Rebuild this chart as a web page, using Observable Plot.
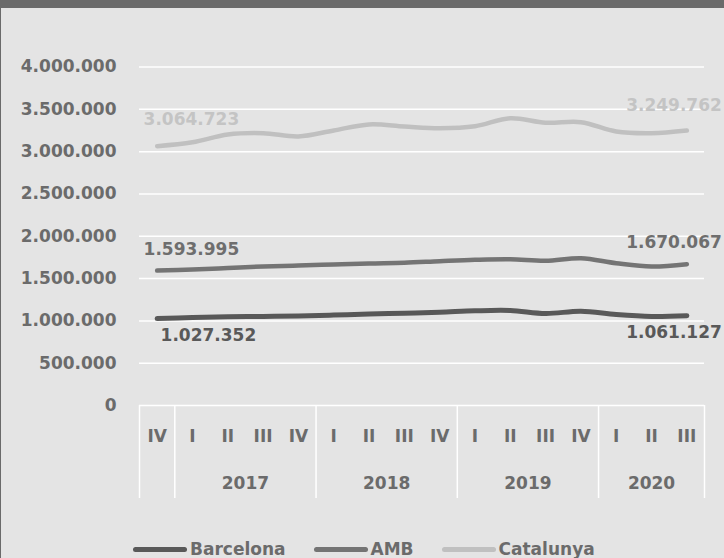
<!DOCTYPE html>
<html><head><meta charset="utf-8">
<script src="https://cdn.jsdelivr.net/npm/d3@7"></script>
<script src="https://cdn.jsdelivr.net/npm/@observablehq/plot@0.6"></script>
<style>
html,body{margin:0;padding:0;background:#e4e4e4;}
#wrap{position:relative;width:724px;height:558px;overflow:hidden;background:#e4e4e4;font-family:"DejaVu Sans",sans-serif;}
#band{position:absolute;left:0;top:0;width:724px;height:8px;background:#6a6a6a;}
#lb{position:absolute;left:0;top:0;width:1px;height:558px;background:#6a6a6a;}
#chart{position:absolute;left:0;top:0;}
#legend{position:absolute;top:539px;left:133px;display:flex;align-items:center;font-weight:bold;font-size:17px;color:#6b6b6b;white-space:nowrap;}
.item{display:flex;align-items:center;margin-right:28px;}
.sw{display:inline-block;width:54px;height:5px;border-radius:3px;margin-right:3px;}
</style></head>
<body>
<div id="wrap"><div id="chart"></div><div id="band"></div><div id="lb"></div><div id="legend"></div></div>
<script>
const quarters = ["IV","I","II","III","IV","I","II","III","IV","I","II","III","IV","I","II","III"];
const quarterYears = [2016,2017,2017,2017,2017,2018,2018,2018,2018,2019,2019,2019,2019,2020,2020,2020];
const yearLabels = ["2017","2018","2019","2020"];
const barcelona = [1027352,1040000,1048000,1052000,1058000,1069000,1081000,1091000,1102000,1119000,1123000,1087000,1114000,1075000,1052000,1061127];
const amb = [1593995,1607000,1625000,1643000,1654000,1666000,1678000,1686000,1705000,1722000,1729000,1710000,1741000,1682000,1643000,1670067];
const catalunya = [3064723,3110000,3202000,3218000,3179000,3250000,3321000,3297000,3277000,3300000,3395000,3341000,3348000,3238000,3218000,3249762];
const yTicks = [0,500000,1000000,1500000,2000000,2500000,3000000,3500000,4000000];
const seriesNames = ["Barcelona","AMB","Catalunya"];
const seriesColors = ["#595959","#747474","#c0c0c0"];
const labelColors = ["#595959","#6e6e6e","#c4c4c4"];

const seriesValues = [barcelona, amb, catalunya];
const rows = [];
seriesNames.forEach((s, k) => seriesValues[k].forEach((v, i) => rows.push({i, series: s, value: v})));

const n = quarters.length;
const seps = [-0.5];
for (let i = 1; i < n; i++) if (quarterYears[i] !== quarterYears[i-1]) seps.push(i - 0.5);
seps.push(n - 0.5);
const yearGroups = yearLabels.map(y => {
  const idx = quarterYears.map((q, i) => q === +y ? i : null).filter(d => d !== null);
  return {year: y, center: d3.mean(idx)};
});

const loc = d3.formatLocale({decimal: ",", thousands: ".", grouping: [3], currency: ["", "€"]});
const fmt = loc.format(",d");

const first = seriesNames.map((s, k) => ({series: s, i: 0, value: seriesValues[k][0]}));
const last = seriesNames.map((s, k) => ({series: s, i: n - 1, value: seriesValues[k][n - 1]}));
const lbl = (d, k, opts) => Plot.text([d], {x: "i", y: "value", text: d => fmt(d.value), fill: labelColors[k], ...opts});

const chart = Plot.plot({
  width: 724, height: 558,
  marginLeft: 139, marginRight: 20, marginTop: 66.5, marginBottom: 153,
  style: {background: "transparent", fontFamily: "DejaVu Sans", fontSize: "17px", fontWeight: "bold", color: "#6b6b6b", overflow: "visible"},
  x: {type: "linear", domain: [-0.5, n - 0.5], axis: null},
  y: {domain: [0, 4000000], axis: null},
  marks: [
    Plot.ruleY(yTicks, {stroke: "#fff", strokeWidth: 1.5}),
    Plot.ruleX(seps, {x: d => d, stroke: "#fff", strokeWidth: 1.5, insetTop: 338.5, insetBottom: -93}),
    Plot.axisY({ticks: yTicks, tickFormat: fmt, tickSize: 0, tickPadding: 23, label: null}),
    Plot.text(quarters, {x: (d, i) => i, frameAnchor: "bottom", lineAnchor: "middle", dy: 31, text: d => d}),
    Plot.text(yearGroups, {x: "center", frameAnchor: "bottom", lineAnchor: "middle", dy: 78, text: "year"}),
    Plot.line(rows.filter(r => r.series === "Catalunya"), {x: "i", y: "value", stroke: seriesColors[2], strokeWidth: 4.5, curve: "catmull-rom"}),
    Plot.line(rows.filter(r => r.series === "AMB"), {x: "i", y: "value", stroke: seriesColors[1], strokeWidth: 4.5, curve: "catmull-rom"}),
    Plot.line(rows.filter(r => r.series === "Barcelona"), {x: "i", y: "value", stroke: seriesColors[0], strokeWidth: 5, curve: "catmull-rom"}),
    lbl(first[2], 2, {textAnchor: "start", dx: -13.6, dy: -27}),
    lbl(last[2], 2, {textAnchor: "end", dx: 35, dy: -24.5}),
    lbl(first[1], 1, {textAnchor: "start", dx: -13.6, dy: -21.5}),
    lbl(last[1], 1, {textAnchor: "end", dx: 35, dy: -21.7}),
    lbl(first[0], 0, {textAnchor: "start", dx: 3.4, dy: 16.5}),
    lbl(last[0], 0, {textAnchor: "end", dx: 35, dy: 17.3})
  ]
});
document.getElementById("chart").appendChild(chart);

const legend = document.getElementById("legend");
seriesNames.forEach((s, k) => {
  const it = document.createElement("div");
  it.className = "item";
  const sw = document.createElement("span");
  sw.className = "sw";
  sw.style.background = seriesColors[k];
  const t = document.createElement("span");
  t.textContent = s;
  it.appendChild(sw); it.appendChild(t);
  legend.appendChild(it);
});
</script>
</body></html>
